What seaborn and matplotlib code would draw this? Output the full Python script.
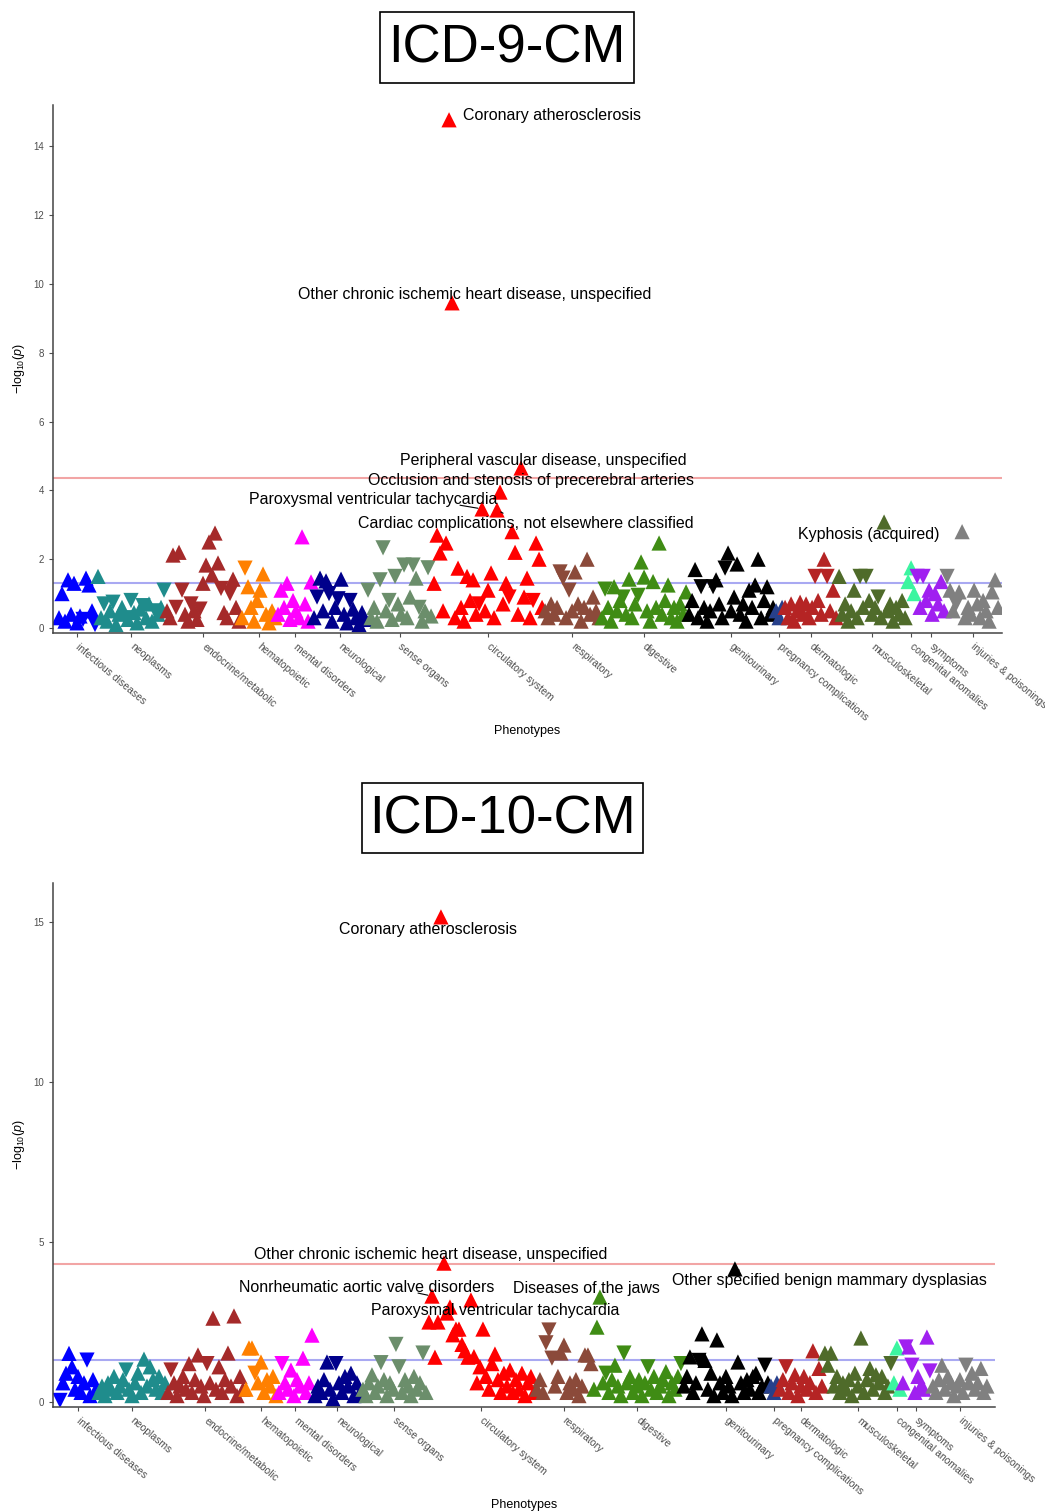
import numpy as np
import pandas as pd
import matplotlib.pyplot as plt
import matplotlib.patches as mpatches
import seaborn as sns

sns.set_theme(style='ticks')
plt.rcParams['font.family'] = ['Liberation Sans', 'DejaVu Sans']
plt.rcParams['mathtext.fontset'] = 'custom'
plt.rcParams['mathtext.rm'] = 'Liberation Sans'
plt.rcParams['mathtext.it'] = 'Liberation Sans:italic'

### Data
# phecode categories in plotting order
categories = ['infectious diseases', 'neoplasms', 'endocrine/metabolic', 'hematopoietic',
              'mental disorders', 'neurological', 'sense organs', 'circulatory system',
              'respiratory', 'digestive', 'genitourinary', 'pregnancy complications',
              'dermatologic', 'musculoskeletal', 'congenital anomalies', 'symptoms',
              'injuries & poisonings']
cat_colors = ['#0000FF', '#1F8C8C', '#A52A2A', '#FF8000', '#FF00FF', '#00008B', '#6B8E6B',
              '#FF0000', '#8B4A3A', '#3F8C14', '#000000', '#27408B', '#B52424', '#4F6B2A',
              '#3CF5A0', '#A020F0', '#808080']

# -log10(p) per phenotype; sign = direction of effect (+ up triangle, - down triangle)
icd9_infectious = [0.3, 1.0, 0.2, 1.4, 0.4, 1.3, 0.15, 0.35, -0.25, 1.45, 1.25, 0.5, -0.1]
icd9_neoplasms = [1.5, 0.3, -0.7, 0.2, 0.5, -0.75, 0.1, 0.4, 0.6, -0.3, 0.25, -0.8, 0.45, 0.15,
                  0.55, -0.65, 0.3, 0.7, 0.2, -0.5, 0.4, 0.6, -1.1]
icd9_endocrine = [0.5, 0.3, 2.12, -0.6, 2.2, -1.1, 0.4, 0.2, -0.7, 0.5, 0.25, -0.55, 1.3, 1.83,
                  2.5, 1.54, 2.76, 1.89, -1.15, 0.45, 0.3, -1.0, 1.42, 0.6, 0.2]
icd9_hematopoietic = [0.3, -1.74, 1.2, 0.6, 0.2, 0.8, 1.1, 1.57, 0.4, 0.15, 0.5, 0.3]
icd9_mental = [0.4, 1.1, 0.6, 1.3, 0.25, 0.8, 0.5, 0.3, 2.65, 0.7, 0.2, 1.34]
icd9_neurological = [0.3, -0.9, 1.45, 0.5, 1.37, -1.0, 0.2, 0.6, -0.85, 1.42, 0.4, 0.15, -0.8,
                     0.55, 0.3, 0.1, 0.45, 0.25]
icd9_sense = [-1.1, 0.3, 0.6, 0.2, -1.4, -2.33, 0.5, -0.8, 0.25, -1.5, 0.7, 0.4, -1.83, 0.3,
              0.9, -1.83, 1.45, -0.6, 0.2, 0.5, -1.75, 0.35]
icd9_circulatory = [1.3, 2.7, 2.18, 0.5, 2.47, 14.77, 9.45, 0.3, 1.74, 0.6, 0.2, 1.5, 0.8, 1.4,
                    0.4, -0.7, 3.46, 0.5, 1.1, 1.6, 0.3, 3.43, 3.95, 0.7, 1.3, -0.9, 2.8, 2.2,
                    0.4, 4.65, 0.9, 1.45, 0.3, -0.8, 2.47, 2.0, 0.6]
icd9_respiratory = [0.5, 0.3, 0.7, 0.4, 0.6, -1.63, -1.45, 0.3, -1.1, 0.5, 1.63, 0.7, 0.2, 0.6,
                    2.0, 0.4, 0.9, 0.5, 0.3]
icd9_digestive = [0.3, -1.13, 0.6, 0.2, 1.2, 0.5, 0.8, -0.9, 0.4, 1.42, 0.3, 0.7, -0.95, 1.92,
                  1.48, 0.5, 0.2, 1.35, 0.6, 2.47, 0.4, 0.8, 1.25, 0.3, 0.6, 0.2, 0.7, 0.4, 1.05]
icd9_genitourinary = [0.4, 0.8, 1.7, 0.3, -1.2, 0.6, 0.2, 0.5, -1.2, 1.4, 0.7, 0.3, -1.74, 2.18,
                      0.5, 0.9, 1.86, 0.4, 0.7, 0.2, 1.1, 0.6, 1.25, 2.0, 0.3, 0.8, 1.2, 0.4, 0.6]
icd9_pregnancy = [0.5, 0.3, 0.6]
icd9_dermatologic = [0.6, 0.3, 0.7, 0.2, 0.5, 0.75, 0.4, 0.7, 0.3, 0.6, -1.5, 0.8, 0.4, 2.0,
                     -1.5, 0.5, 1.1, 0.3]
icd9_musculoskeletal = [1.5, 0.4, 0.7, 0.2, 0.5, 1.1, 0.3, -1.5, 0.6, -1.5, 0.8, 0.4, 0.6, -0.9,
                        0.3, 3.08, 0.5, 0.7, 0.2, 0.6, 0.4, 0.8, 0.3]
icd9_congenital = [1.35, 1.75, 1.0]
icd9_symptoms = [-1.5, 0.6, -1.5, 0.8, 1.1, 0.4, 1.0, 0.7, 1.35, 0.5]
icd9_injuries = [-1.5, 1.1, 0.5, -0.7, 1.05, 2.8, 0.3, 0.6, 0.4, 1.1, 0.7, 0.3, 0.8, 0.5, 0.2,
                 1.05, 1.4, 0.6]

icd10_infectious = [-0.05, 0.6, 0.9, 1.52, 1.1, 0.4, 0.8, 0.3, 0.6, -1.31, 0.2, 0.7, 0.4]
icd10_neoplasms = [0.3, 0.5, 0.2, 0.6, 0.4, 0.8, 0.3, 0.5, 0.7, -1.0, 0.4, 0.2, 0.6, 0.9, 0.3,
                   1.34, 0.5, 1.1, 0.7, 0.4, 0.8, 0.3, 0.6]
icd10_endocrine = [0.3, -1.0, 0.6, 0.2, 0.5, 0.8, 0.4, 1.2, 0.3, 0.7, 1.47, 0.5, 0.2, -1.2, 0.6,
                   2.62, 0.4, 1.1, 0.3, 0.7, 1.53, 0.5, 2.69, 0.2, 0.8, 0.4]
icd10_hematopoietic = [0.4, 1.69, 1.69, -0.9, 0.6, 1.25, 0.3, 0.7, 0.5, 0.8, 0.2]
icd10_mental = [0.3, -1.2, 0.6, 0.4, 1.0, 0.2, 0.7, 0.5, 1.37, 0.3, 0.6, 2.09]
icd10_neurological = [0.2, 0.5, 0.3, 0.7, 1.25, 0.4, 0.1, -1.2, 0.6, 0.3, 0.8, 0.5, 0.9, 0.2,
                      0.6, 0.3]
icd10_sense = [0.4, 0.2, 0.6, 0.85, 0.3, 0.5, -1.23, 0.7, 0.2, 0.6, 0.4, -1.8, -1.1, 0.3, 0.7,
               0.5, 0.2, 0.8, 0.4, 0.6, -1.53, 0.3]
icd10_circulatory = [2.5, 3.31, 1.4, 2.5, 15.16, 4.34, 2.78, 2.97, 2.1, 2.28, 2.28, 1.8, 1.6,
                     1.4, 3.19, 1.42, 0.6, 1.1, 2.28, 0.8, 0.4, 1.2, 1.5, 0.7, 0.3, 0.9, 0.5,
                     1.0, 0.3, 0.7, 0.4, 0.9, 0.2, 0.6, 0.8, 0.3]
icd10_respiratory = [0.4, 0.7, 0.3, -1.85, -2.25, -1.37, 0.5, 0.8, 1.53, 1.78, 0.3, 0.6, 0.4,
                     0.7, 0.2, 0.5, 1.47, 1.47, 1.2]
icd10_digestive = [0.4, 2.34, 3.28, 0.6, -0.9, 0.3, 0.7, 1.15, 0.5, 0.2, -1.53, 0.6, 0.8, 0.3,
                   0.5, 0.7, 0.2, 0.6, -1.1, 0.4, 0.8, 0.3, 0.5, 0.7, 0.95, 0.2, 0.6, 0.4, 0.8,
                   -1.2]
icd10_genitourinary = [0.5, 0.8, 1.41, 0.3, 0.6, -1.3, 2.13, 1.3, 0.4, 0.9, 0.2, 1.94, 0.6, 0.3,
                       0.8, 0.5, 0.2, 4.16, 1.25, 0.6, 0.3, 0.7, 0.4, 0.8, 0.9, 0.3, 0.5, -1.15,
                       0.6]
icd10_pregnancy = [0.5, 0.3, 0.6]
icd10_dermatologic = [0.4, 0.7, -1.1, 0.3, 0.6, 0.85, 0.2, 0.5, 0.8, 0.4, 0.6, 1.6, 0.3, 1.05, 0.5]
icd10_musculoskeletal = [1.53, 1.15, 1.53, 0.5, 0.8, 0.3, 0.6, 0.4, 0.7, 0.2, 0.9, 0.5, 2.0, 0.3,
                         0.7, 1.05, 0.4, 0.85, 0.6, 0.8, 0.3, 0.5, -1.2]
icd10_congenital = [0.6, 1.69, 0.4]
icd10_symptoms = [0.6, -1.72, 1.72, -1.15, 0.3, 0.8, 0.5, 0.4, 2.03, -0.97]
icd10_injuries = [0.5, 0.3, 0.7, 1.15, 0.4, 0.8, 0.6, 0.2, 0.5, 0.7, 0.3, -1.15, 0.6, 0.9, 0.4,
                  0.6, 1.05, 0.3, 0.5]

# significance thresholds (-log10 p)
icd9_bonferroni, icd10_bonferroni = 4.36, 4.31
nominal = 1.301

# annotated phenotypes
icd9_label_text = ['Coronary atherosclerosis', 'Other chronic ischemic heart disease, unspecified',
                   'Peripheral vascular disease, unspecified',
                   'Occlusion and stenosis of precerebral arteries',
                   'Paroxysmal ventricular tachycardia',
                   'Cardiac complications, not elsewhere classified', 'Kyphosis (acquired)']
icd9_label_cat = ['circulatory system'] * 6 + ['musculoskeletal']
icd9_label_val = [14.77, 9.45, 4.65, 3.95, 3.46, 3.43, 3.08]

icd10_label_text = ['Coronary atherosclerosis', 'Other chronic ischemic heart disease, unspecified',
                    'Nonrheumatic aortic valve disorders', 'Diseases of the jaws',
                    'Paroxysmal ventricular tachycardia',
                    'Other specified benign mammary dysplasias']
icd10_label_cat = ['circulatory system', 'circulatory system', 'circulatory system', 'digestive',
                   'circulatory system', 'genitourinary']
icd10_label_val = [15.16, 4.34, 3.31, 3.28, 2.97, 4.16]

icd9_values = [icd9_infectious, icd9_neoplasms, icd9_endocrine, icd9_hematopoietic, icd9_mental,
               icd9_neurological, icd9_sense, icd9_circulatory, icd9_respiratory, icd9_digestive,
               icd9_genitourinary, icd9_pregnancy, icd9_dermatologic, icd9_musculoskeletal,
               icd9_congenital, icd9_symptoms, icd9_injuries]
icd10_values = [icd10_infectious, icd10_neoplasms, icd10_endocrine, icd10_hematopoietic,
                icd10_mental, icd10_neurological, icd10_sense, icd10_circulatory,
                icd10_respiratory, icd10_digestive, icd10_genitourinary, icd10_pregnancy,
                icd10_dermatologic, icd10_musculoskeletal, icd10_congenital, icd10_symptoms,
                icd10_injuries]

### Layout (label offsets in pixels, connector start on the text as relpos or None)
icd9_offsets = [(103, 4), (23, 8), (22, 8), (31, 12), (-109, 9), (29, -14), (-15, -12)]
icd9_lines = [None, None, None, None, (0.85, 0.15), (0.45, 1.0), None]
icd10_offsets = [(-13, -13), (-13, 9), (-65, 9), (-14, 9), (45, -4), (95, -12)]
icd10_lines = [None, None, (0.7, 0.1), None, (0.3, 0.5), (0.25, 1.0)]


### Functions
def build_frame(value_lists):
    rows = []
    x = 0
    for cat, vals in zip(categories, value_lists):
        for v in vals:
            rows.append((x, cat, abs(v), 'up' if v >= 0 else 'down'))
            x += 1
    return pd.DataFrame(rows, columns=['x', 'category', 'logp', 'direction'])


def draw_panel(ax, df, bonf, xlim, ylim, yticks, ltext, lcat, lval, offsets, lines, width_px):
    ax.axhline(bonf, color='#F2A5A5', lw=1.5, zorder=0)
    ax.axhline(nominal, color='#A9A9F2', lw=1.5, zorder=0)
    sns.scatterplot(data=df, x='x', y='logp', hue='category', style='direction',
                    hue_order=categories, palette=dict(zip(categories, cat_colors)),
                    markers={'up': '^', 'down': 'v'}, s=120, linewidth=0,
                    legend=False, ax=ax, zorder=2)
    centers = df.groupby('category', sort=False)['x'].mean()
    ax.set_xticks(centers.values)
    ax.set_xticklabels(centers.index, rotation=-40, ha='left', va='center',
                       rotation_mode='anchor', fontsize=7.5, color='#4D4D4D')
    ax.set_yticks(yticks)
    ax.tick_params(axis='y', labelsize=7, colors='#4D4D4D', length=3, width=0.8)
    ax.tick_params(axis='x', length=3, width=0.8, colors='#4D4D4D', pad=6)
    ax.set_xlim(*xlim)
    ax.set_ylim(*ylim)
    for sp in ['left', 'bottom']:
        ax.spines[sp].set_color('#444444')
        ax.spines[sp].set_linewidth(1.1)
    sns.despine(ax=ax)
    ax.set_xlabel('Phenotypes', fontsize=9, color='black')
    ax.xaxis.set_label_coords(0.5, -0.175)
    ax.set_ylabel(r'$-\mathrm{log}_{10}(\mathit{p})$', fontsize=9, color='black')
    ax.yaxis.set_label_coords(-26 / width_px, 0.5)
    for t, c, v, off, rel in zip(ltext, lcat, lval, offsets, lines):
        row = df[(df['category'] == c) & (np.isclose(df['logp'], v))].iloc[0]
        arrow = None
        if rel is not None:
            arrow = dict(arrowstyle='-', color='black', lw=0.8, shrinkA=0, shrinkB=3, relpos=rel)
        ax.annotate(t, xy=(row['x'], row['logp']), xytext=off, textcoords='offset pixels',
                    ha='center', va='center', fontsize=11.5, color='black',
                    arrowprops=arrow, zorder=3)


### Script
df9 = build_frame(icd9_values)
df10 = build_frame(icd10_values)

fig = plt.figure(figsize=(10.45, 15.12), dpi=100)
W, H = 1045, 1512
ax1 = fig.add_axes([53 / W, 1 - 633 / H, (1002 - 53) / W, (633 - 105) / H])
ax2 = fig.add_axes([53 / W, 1 - 1407 / H, (995 - 53) / W, (1407 - 883) / H])

draw_panel(ax1, df9, icd9_bonferroni, (-2, 314.3), (-0.145, 15.2), range(0, 15, 2),
           icd9_label_text, icd9_label_cat, icd9_label_val, icd9_offsets, icd9_lines, 949)
draw_panel(ax2, df10, icd10_bonferroni, (-2.33, 311.7), (-0.156, 16.22), [0, 5, 10, 15],
           icd10_label_text, icd10_label_cat, icd10_label_val, icd10_offsets, icd10_lines, 942)

# boxed panel titles
for (x0, y0, x1, y1), title in [((380, 12, 634, 83), 'ICD-9-CM'), ((362, 783, 643, 853), 'ICD-10-CM')]:
    fig.add_artist(mpatches.Rectangle((x0 / W, 1 - y1 / H), (x1 - x0) / W, (y1 - y0) / H,
                                      transform=fig.transFigure, fill=False, ec='black', lw=1.2))
    fig.text((x0 + x1) / 2 / W, 1 - ((y0 + y1) / 2 + 1) / H, title, ha='center', va='center',
             fontsize=38, color='black')

fig.savefig('out.png', dpi=100, facecolor='white')
